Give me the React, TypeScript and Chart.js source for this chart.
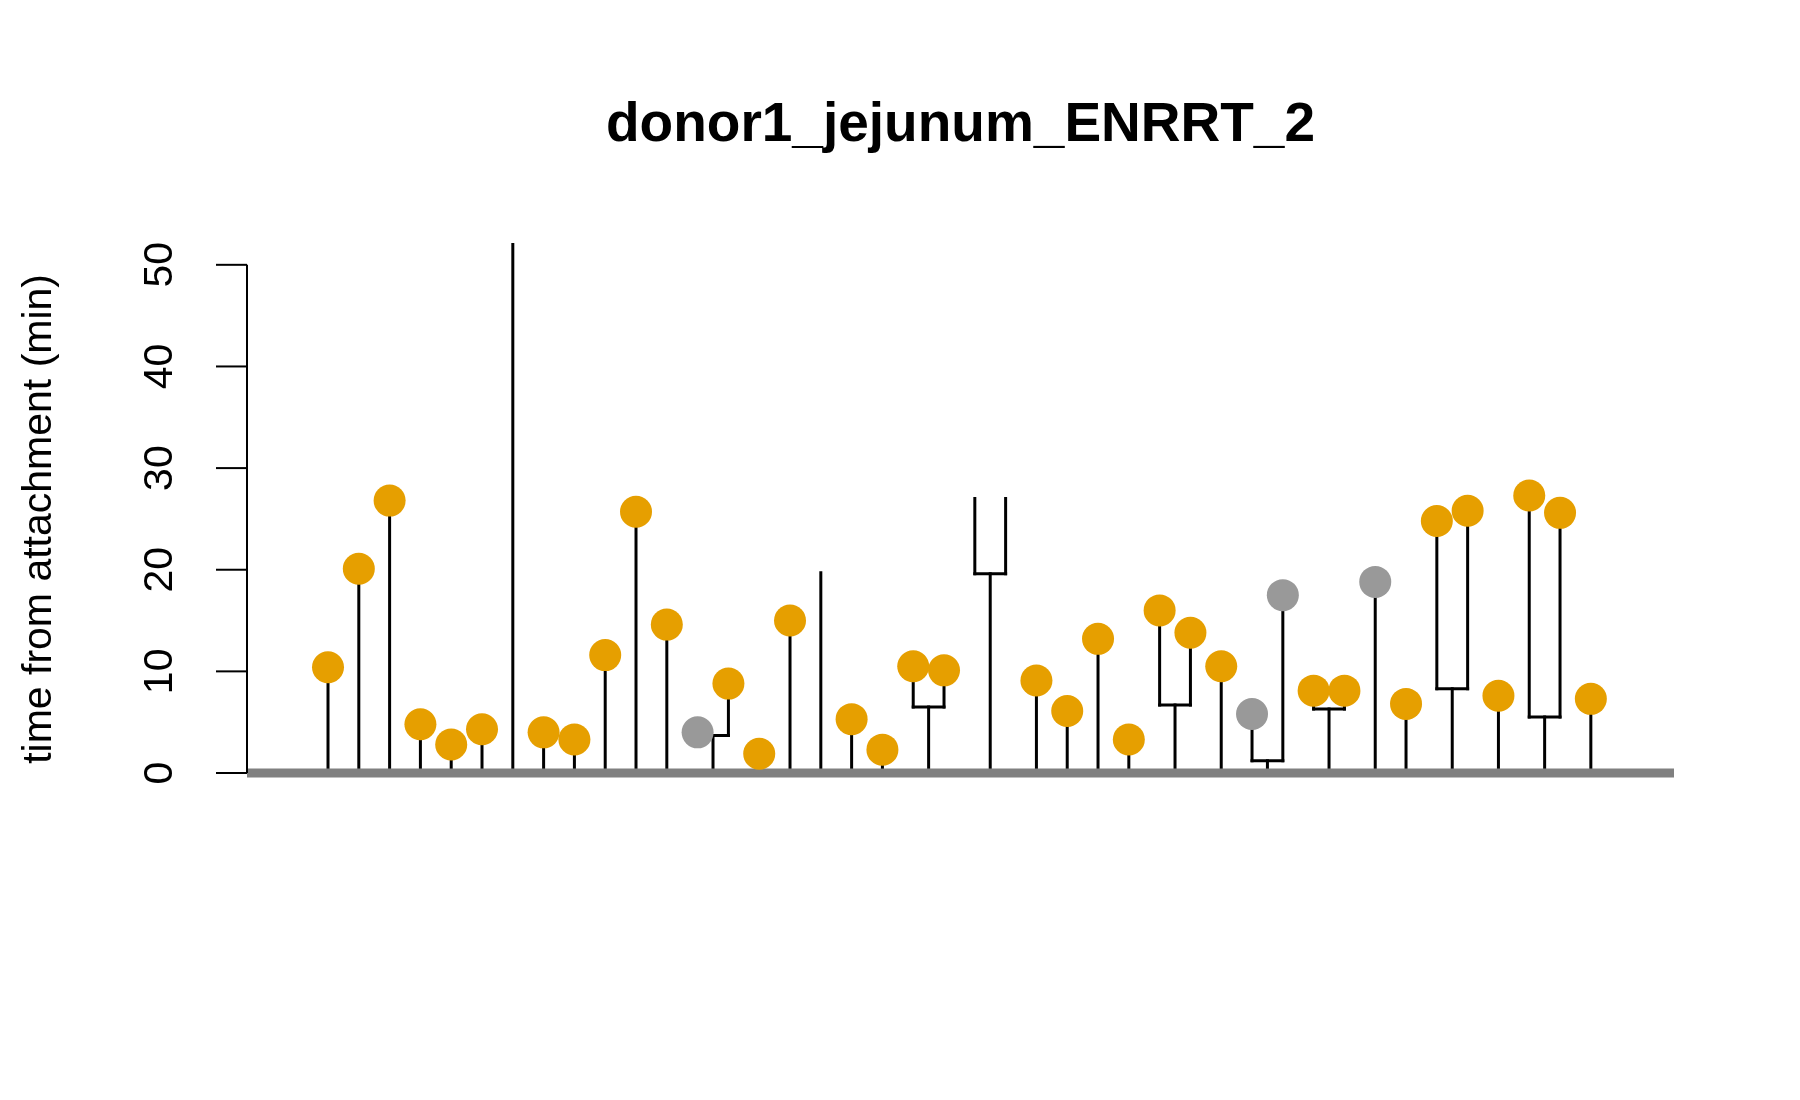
import { useEffect, useRef } from 'react';
import { Chart, registerables } from 'chart.js';

Chart.register(...registerables);

// end time (min) of each leaf, left to right
const leafEnds = [10.4, 20.1, 26.8, 4.8, 2.8, 4.3, 52, 4.0, 3.3, 11.6, 25.7, 14.6, 4.0, 8.8, 1.9, 15.0, 19.7, 5.3, 2.3, 10.5, 10.1,
  27, 27, 9.1, 6.1, 13.2, 3.3, 16.0, 13.8, 10.5, 5.8, 17.5, 8.1, 8.1, 18.8, 6.8, 24.8, 25.8, 7.6, 27.3, 25.6, 7.3];
// o = orange dot, g = grey dot, n = no dot
const leafKinds = ['o', 'o', 'o', 'o', 'o', 'o', 'n', 'o', 'o', 'o', 'o', 'o', 'g', 'o', 'o', 'o', 'n', 'o', 'o', 'o', 'o',
  'n', 'n', 'o', 'o', 'o', 'o', 'o', 'o', 'o', 'g', 'g', 'o', 'o', 'g', 'o', 'o', 'o', 'o', 'o', 'o', 'o'];
// divisions: left leaf index (pairs with the next leaf) and division time
const splitLeaf = [12, 19, 21, 27, 30, 32, 36, 39];
const splitTime = [3.7, 6.5, 19.6, 6.7, 1.2, 6.3, 8.3, 5.5];
const yTicks = [0, 10, 20, 30, 40, 50];

const COLORS: Record<string, string> = { o: '#E69F00', g: '#999999' };

export default function App() {
  const ref = useRef<HTMLCanvasElement>(null);

  useEffect(() => {
    if (!ref.current) return;
    const segs: { x: number; y: number }[][] = [];
    leafEnds.forEach((end, i) => {
      const s = splitLeaf.indexOf(i) >= 0 ? splitTime[splitLeaf.indexOf(i)]
        : splitLeaf.indexOf(i - 1) >= 0 ? splitTime[splitLeaf.indexOf(i - 1)] : 0;
      segs.push([{ x: i, y: s }, { x: i, y: end }]);
    });
    splitLeaf.forEach((l, k) => {
      segs.push([{ x: l, y: splitTime[k] }, { x: l + 1, y: splitTime[k] }]);
      segs.push([{ x: l + 0.5, y: 0 }, { x: l + 0.5, y: splitTime[k] }]);
    });
    const dots = leafEnds.map((y, x) => ({ x, y })).filter((_, i) => leafKinds[i] !== 'n');
    const dotColors = leafKinds.filter((k) => k !== 'n').map((k) => COLORS[k]);

    const chart = new Chart(ref.current, {
      type: 'scatter',
      data: {
        datasets: [
          { data: dots, pointRadius: 16, pointBackgroundColor: dotColors, pointBorderWidth: 0, showLine: false },
          { data: [{ x: -2.63, y: 0 }, { x: 43.7, y: 0 }], showLine: true, borderColor: '#808080', borderWidth: 9, pointRadius: 0 },
          ...segs.map((d) => ({ data: d, showLine: true, borderColor: '#000', borderWidth: 3, pointRadius: 0, borderCapStyle: 'square' as const })),
        ],
      },
      options: {
        animation: false,
        responsive: false,
        layout: { padding: { left: 247, right: 126, top: 214, bottom: 296.5 } },
        plugins: { legend: { display: false }, tooltip: { enabled: false } },
        scales: {
          x: { type: 'linear', min: -2.63, max: 43.7, display: false },
          y: { type: 'linear', min: -3, max: 55, display: false },
        },
      },
      plugins: [{
        id: 'decor',
        afterDraw(c) {
          const ctx = c.ctx;
          const y = c.scales.y;
          const x0 = c.chartArea.left;
          ctx.save();
          ctx.fillStyle = '#000';
          ctx.strokeStyle = '#000';
          ctx.lineWidth = 2;
          ctx.font = 'bold 55px "Liberation Sans", Arial, sans-serif';
          ctx.textAlign = 'center';
          ctx.textBaseline = 'middle';
          ctx.fillText('donor1_jejunum_ENRRT_2', (c.chartArea.left + c.chartArea.right) / 2, 126);
          ctx.beginPath();
          ctx.moveTo(x0, y.getPixelForValue(0));
          ctx.lineTo(x0, y.getPixelForValue(50));
          ctx.stroke();
          ctx.font = '41px "Liberation Sans", Arial, sans-serif';
          yTicks.forEach((t) => {
            const py = y.getPixelForValue(t);
            ctx.beginPath();
            ctx.moveTo(x0, py);
            ctx.lineTo(x0 - 31, py);
            ctx.stroke();
            ctx.save();
            ctx.translate(161, py);
            ctx.rotate(-Math.PI / 2);
            ctx.fillText(String(t), 0, 0);
            ctx.restore();
          });
          ctx.translate(40, (y.getPixelForValue(0) + y.getPixelForValue(50)) / 2);
          ctx.rotate(-Math.PI / 2);
          ctx.fillText('time from attachment (min)', 0, 0);
          ctx.restore();
        },
      }],
    });
    return () => chart.destroy();
  }, []);

  return <canvas ref={ref} width={1800} height={1100} style={{ position: 'fixed', left: 0, top: 0, background: '#fff' }} />;
}
